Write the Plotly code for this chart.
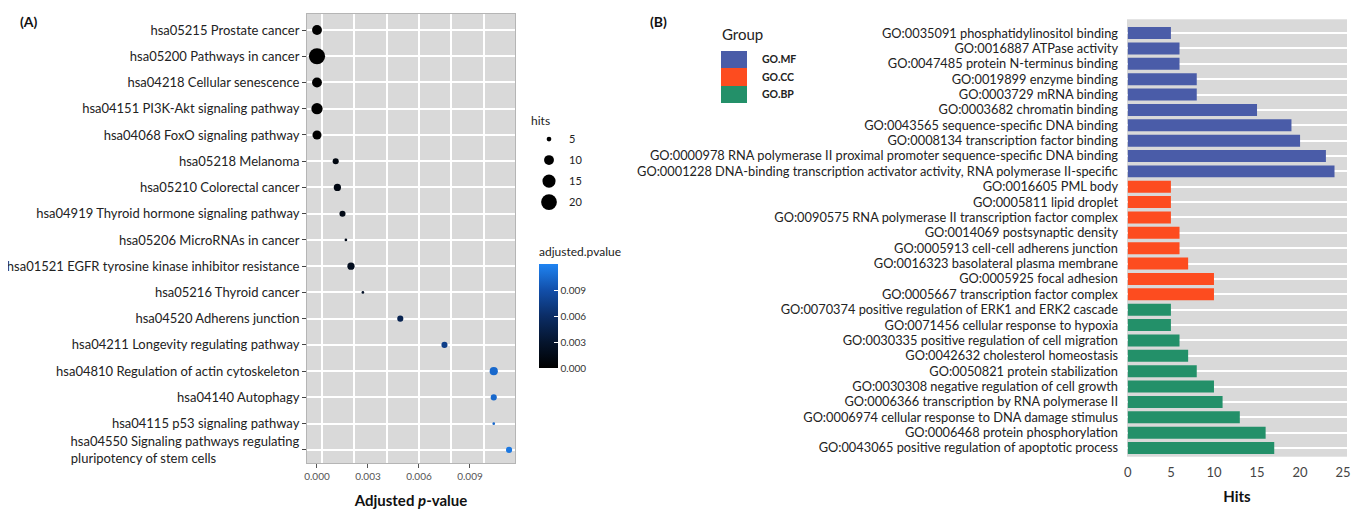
import math
import plotly.graph_objects as go

# The page body adds an 8px margin, so the figure is sized to the visible area
OFF = 8
W, H = 1359, 509
FW, FH = W - OFF, H - OFF

# ---------------- Panel A data ----------------
kegg_terms = [
    "hsa05215 Prostate cancer",
    "hsa05200 Pathways in cancer",
    "hsa04218 Cellular senescence",
    "hsa04151 PI3K-Akt signaling pathway",
    "hsa04068 FoxO signaling pathway",
    "hsa05218 Melanoma",
    "hsa05210 Colorectal cancer",
    "hsa04919 Thyroid hormone signaling pathway",
    "hsa05206 MicroRNAs in cancer",
    "hsa01521 EGFR tyrosine kinase inhibitor resistance",
    "hsa05216 Thyroid cancer",
    "hsa04520 Adherens junction",
    "hsa04211 Longevity regulating pathway",
    "hsa04810 Regulation of actin cytoskeleton",
    "hsa04140 Autophagy",
    "hsa04115 p53 signaling pathway",
    "hsa04550 Signaling pathways regulating<br>pluripotency of stem cells" + "\u00a0" * 25,
]
kegg_padj = [0.0000, 0.0000, 0.0000, 0.0000, 0.0000, 0.0011, 0.0012, 0.0015, 0.0017,
             0.0020, 0.0027, 0.0049, 0.0075, 0.0104, 0.0104, 0.0104, 0.0113]
kegg_hits = [10, 21, 10, 12, 9, 6, 7, 6, 4, 7, 4, 6, 6, 8, 6, 4, 6]
hits_legend = [5, 10, 15, 20]
pval_ticks = [0.000, 0.003, 0.006, 0.009]

# ---------------- Panel B data ----------------
go_mf_terms = [
    "GO:0035091 phosphatidylinositol binding",
    "GO:0016887 ATPase activity",
    "GO:0047485 protein N-terminus binding",
    "GO:0019899 enzyme binding",
    "GO:0003729 mRNA binding",
    "GO:0003682 chromatin binding",
    "GO:0043565 sequence-specific DNA binding",
    "GO:0008134 transcription factor binding",
    "GO:0000978 RNA polymerase II proximal promoter sequence-specific DNA binding",
    "GO:0001228 DNA-binding transcription activator activity, RNA polymerase II-specific",
]
go_mf_hits = [5, 6, 6, 8, 8, 15, 19, 20, 23, 24]
go_cc_terms = [
    "GO:0016605 PML body",
    "GO:0005811 lipid droplet",
    "GO:0090575 RNA polymerase II transcription factor complex",
    "GO:0014069 postsynaptic density",
    "GO:0005913 cell-cell adherens junction",
    "GO:0016323 basolateral plasma membrane",
    "GO:0005925 focal adhesion",
    "GO:0005667 transcription factor complex",
]
go_cc_hits = [5, 5, 5, 6, 6, 7, 10, 10]
go_bp_terms = [
    "GO:0070374 positive regulation of ERK1 and ERK2 cascade",
    "GO:0071456 cellular response to hypoxia",
    "GO:0030335 positive regulation of cell migration",
    "GO:0042632 cholesterol homeostasis",
    "GO:0050821 protein stabilization",
    "GO:0030308 negative regulation of cell growth",
    "GO:0006366 transcription by RNA polymerase II",
    "GO:0006974 cellular response to DNA damage stimulus",
    "GO:0006468 protein phosphorylation",
    "GO:0043065 positive regulation of apoptotic process",
]
go_bp_hits = [5, 5, 6, 7, 8, 10, 11, 13, 16, 17]
groups = ["GO.MF", "GO.CC", "GO.BP"]
hits_ticks = [0, 5, 10, 15, 20, 25]

# ---------------- styling ----------------
FONT = "Lato"
PANEL_BG = "#D9D9D9"
GROUP_COLORS = {"GO.MF": "#4A5CA8", "GO.CC": "#FD4C1F", "GO.BP": "#239069"}
PV_SCALE = [[0.0, "#000000"], [0.25, "#05152E"], [0.5, "#0B2D66"],
            [0.75, "#124FAA"], [1.0, "#1F84F2"]]


def dot_size(h, hmin=4, hmax=21):
    return 2.7 * math.sqrt(1 + 35 * (h - hmin) / (hmax - hmin))


def fx(px):
    return (px - OFF) / FW


def fy(py):
    return 1 - (py - OFF) / FH


fig = go.Figure()

# Panel A dots
fig.add_trace(go.Scatter(
    x=kegg_padj, y=kegg_terms, mode="markers", xaxis="x", yaxis="y",
    showlegend=False,
    marker=dict(size=[dot_size(h) for h in kegg_hits], color=kegg_padj,
                opacity=1,
                colorscale=PV_SCALE, cmin=0, cmax=0.012, line=dict(width=0),
                colorbar=dict(
                    title=dict(text="adjusted.pvalue", side="top",
                               font=dict(family=FONT, size=12, color="#222")),
                    x=fx(539), xanchor="left", y=fy(244), yanchor="top",
                    lenmode="pixels", len=124, thickness=19,
                    outlinewidth=0, tickvals=pval_ticks,
                    ticktext=[f"{v:.3f}" for v in pval_ticks],
                    ticks="inside", tickcolor="white", ticklen=4,
                    tickfont=dict(family=FONT, size=10, color="#333"),
                    xpad=0, ypad=0,
                )),
))

# hits size legend
for h in hits_legend:
    fig.add_trace(go.Scatter(
        x=[None], y=[None], mode="markers", name=str(h), xaxis="x", yaxis="y",
        marker=dict(size=dot_size(h), color="black", opacity=1),
        legend="legend", legendgroup=f"h{h}",
    ))

# Panel B bars
for grp, terms, vals in [("GO.MF", go_mf_terms, go_mf_hits),
                         ("GO.CC", go_cc_terms, go_cc_hits),
                         ("GO.BP", go_bp_terms, go_bp_hits)]:
    fig.add_trace(go.Bar(
        x=vals, y=terms, orientation="h", name=grp, xaxis="x2", yaxis="y2",
        marker=dict(color=GROUP_COLORS[grp], line=dict(width=0)),
        width=0.78, showlegend=False,
    ))

# Group legend key
fig.add_trace(go.Heatmap(
    z=[[i] for i in range(len(groups))], y=groups, x=[0], xaxis="x3", yaxis="y3",
    colorscale=[[0, GROUP_COLORS["GO.MF"]], [0.3333, GROUP_COLORS["GO.MF"]],
                [0.3334, GROUP_COLORS["GO.CC"]], [0.6666, GROUP_COLORS["GO.CC"]],
                [0.6667, GROUP_COLORS["GO.BP"]], [1, GROUP_COLORS["GO.BP"]]],
    showscale=False, hoverinfo="skip",
))

all_go = go_mf_terms + go_cc_terms + go_bp_terms

fig.update_layout(
    width=FW, height=FH,
    margin=dict(l=0, r=0, t=0, b=0, autoexpand=False),
    paper_bgcolor="white", plot_bgcolor=PANEL_BG,
    font=dict(family=FONT, size=12, color="#222"),
    barmode="overlay",
    xaxis=dict(
        domain=[fx(307), fx(515)], range=[-0.000588, 0.01165],
        tickvals=pval_ticks, ticktext=[f"{v:.3f}" for v in pval_ticks],
        ticks="outside", ticklen=4, tickcolor="#555",
        tickfont=dict(size=10, color="#555"),
        showgrid=False, zeroline=False,
        minor=dict(showgrid=True, gridcolor="white", gridwidth=1.6,
                   tick0=0.0003, dtick=0.0019, ticklen=0),
        showline=True, linecolor="#B5B5B5", linewidth=1, mirror=True,
        title=dict(text="Adjusted <i>p</i>-value", standoff=14,
                   font=dict(size=15, color="#111", weight="bold")),
        anchor="y", automargin=False,
    ),
    yaxis=dict(
        domain=[fy(463), fy(14)], type="category",
        categoryorder="array", categoryarray=kegg_terms,
        range=[16.5, -0.61],
        ticks="outside", ticklen=4, tickcolor="#444",
        tickfont=dict(size=13, color="#222"),
        showgrid=True, gridcolor="white", gridwidth=1.6,
        showline=True, linecolor="#B5B5B5", linewidth=1, mirror=True,
        anchor="x", automargin=False,
    ),
    xaxis2=dict(
        domain=[fx(1127), fx(1347)], range=[-0.1, 25.45],
        tickvals=hits_ticks, ticks="", showgrid=False, zeroline=False,
        ticklabelstandoff=4,
        tickfont=dict(size=13, color="#444"),
        title=dict(text="Hits", standoff=12,
                   font=dict(size=15, color="#111", weight="bold")),
        showline=True, linecolor="#E4E4E4", linewidth=1, mirror=True,
        anchor="y2", automargin=False,
    ),
    yaxis2=dict(
        domain=[fy(456), fy(20)], type="category",
        categoryorder="array", categoryarray=all_go,
        range=[27.52, -0.85],
        ticks="", ticklabelstandoff=8,
        tickfont=dict(size=12.8, color="#222"),
        showgrid=True, gridcolor="white", gridwidth=1.6,
        anchor="x2", automargin=False,
    ),
    xaxis3=dict(domain=[fx(721), fx(747)], visible=False, anchor="y3"),
    yaxis3=dict(domain=[fy(103), fy(51)], type="category",
                categoryorder="array", categoryarray=groups,
                autorange="reversed", side="right", anchor="x3",
                showgrid=False, ticks="", ticklabelstandoff=14,
                tickfont=dict(size=10.5, color="#222", weight="bold"),
                automargin=False),
    legend=dict(
        title=dict(text="hits", font=dict(size=12, color="#222")),
        x=fx(529), xanchor="left", y=fy(109), yanchor="top",
        itemsizing="trace", font=dict(size=11, color="#222"),
        bgcolor="rgba(0,0,0,0)", tracegroupgap=2, itemwidth=30,
    ),
    annotations=[
        dict(text="<b>(A)</b>", x=fx(18), y=fy(22), xref="paper", yref="paper",
             xanchor="left", yanchor="middle", showarrow=False,
             font=dict(size=14, color="#111")),
        dict(text="<b>(B)</b>", x=fx(648), y=fy(22), xref="paper", yref="paper",
             xanchor="left", yanchor="middle", showarrow=False,
             font=dict(size=14, color="#111")),
        dict(text="Group", x=fx(720), y=fy(34), xref="paper", yref="paper",
             xanchor="left", yanchor="middle", showarrow=False,
             font=dict(size=15, color="#222")),
    ],
)

fig.write_html("out.html")
